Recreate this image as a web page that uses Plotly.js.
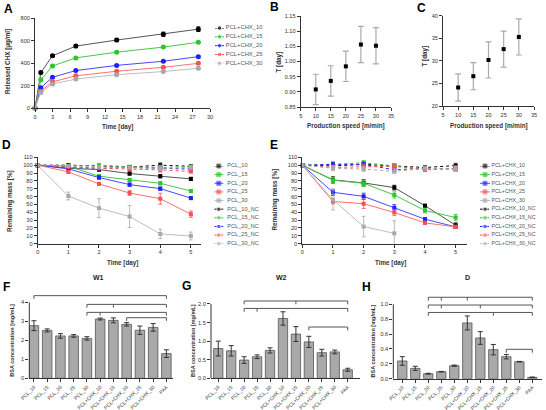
<!DOCTYPE html>
<html><head><meta charset="utf-8">
<script src="https://cdn.plot.ly/plotly-3.0.1.min.js"></script>
<style>html,body{margin:0;padding:0;background:#fff}#chart{width:546px;height:410px}</style>
</head><body><div id="chart"></div>
<script>
// ---------------- DATA ----------------
const timeA = [0, 1, 3, 7, 14, 22, 28];
const chx10 = [0, 316, 466, 552, 606, 658, 703];
const chx15 = [0, 251, 375, 447, 498, 543, 586];
const chx20 = [0, 181, 274, 334, 380, 417, 458];
const chx25 = [0, 150, 233, 287, 328, 363, 398];
const chx30 = [0, 139, 214, 258, 297, 325, 354];
const chx10Err = [0, 12, 10, 14, 14, 18, 20];
const chx15Err = [0, 8, 8, 8, 8, 8, 8];
const chx20Err = [0, 8, 6, 8, 8, 8, 8];
const chx25Err = [0, 6, 6, 6, 6, 6, 6];
const chx30Err = [0, 6, 6, 6, 6, 6, 6];
const namesA = ['PCL+CHX_10', 'PCL+CHX_15', 'PCL+CHX_20', 'PCL+CHX_25', 'PCL+CHX_30'];

const speed = [10, 15, 20, 25, 30];
const tB = [0.908, 0.936, 0.984, 1.056, 1.052];
const tBErr = [0.05, 0.05, 0.05, 0.06, 0.06];
const tC = [24.1, 26.6, 30.2, 32.6, 35.3];
const tCErr = [3, 3, 4, 4, 4];

const dayDE = [0, 1, 2, 3, 4, 5];
const pcl10 = [100, 96, 94.4, 89.3, 85.9, 82.5];
const pcl15 = [100, 98.7, 85.9, 81.2, 76.9, 67.1];
const pcl20 = [100, 95.3, 84.2, 75.2, 70.1, 58.1];
const pcl25 = [100, 91.5, 76.1, 64.5, 57.3, 37.6];
const pcl30 = [100, 60.7, 45.3, 34.6, 12.4, 9.8];
const pcl10Err = [0, 2, 2, 2, 2, 2];
const pcl15Err = [0, 1.5, 2, 2, 2, 2];
const pcl20Err = [0, 1.5, 2, 2, 2, 2];
const pcl25Err = [0, 2, 2, 3, 7, 4];
const pcl30Err = [0, 5, 12, 14, 6, 5];
const pcl10NC = [100, 100, 99, 97.5, 100, 98.5];
const pcl15NC = [100, 99, 100, 98, 97, 98];
const pcl20NC = [100, 97, 96, 97, 96, 95];
const pcl25NC = [100, 98, 96, 95, 94, 92];
const pcl30NC = [100, 99, 98, 97, 96, 97];
const pclNCErr = [0, 1.5, 1.5, 1.5, 3, 2];
const namesD = ['PCL_10', 'PCL_15', 'PCL_20', 'PCL_25', 'PCL_30',
                'PCL_10_NC', 'PCL_15_NC', 'PCL_20_NC', 'PCL_25_NC', 'PCL_30_NC'];

const chxE10 = [100, 81.2, 77.4, 71.4, 48.3, 23.5];
const chxE15 = [100, 80.8, 76.9, 62, 42.3, 33.3];
const chxE20 = [100, 65.4, 60.3, 45.7, 31.2, 21.4];
const chxE25 = [100, 53.8, 50.9, 39.7, 26.5, 21.4];
const chxE30 = [100, 56, 21.8, 13.2, null, null];
const chxE10Err = [0, 4, 4, 3, 2, 3];
const chxE15Err = [0, 3, 4, 4, 3, 4];
const chxE20Err = [0, 4, 4, 4, 2, 2];
const chxE25Err = [0, 3, 6, 4, 2, 2];
const chxE30Err = [0, 13, 13, 16, 0, 0];
const chxE10NC = [100, 99, 101, 99, 97, 99.5];
const chxE15NC = [100, 101, 103, 99, 95, 96];
const chxE20NC = [100, 101, 101, 94, 96, 95];
const chxE25NC = [100, 97, 98, 98.5, 94, 96];
const chxE30NC = [100, 96, 95, 92, 96, 95];
const chxENCErr = [0, 3, 3, 3, 2, 3];
const namesE = ['PCL+CHX_10', 'PCL+CHX_15', 'PCL+CHX_20', 'PCL+CHX_25', 'PCL+CHX_30',
                'PCL+CHX_10_NC', 'PCL+CHX_15_NC', 'PCL+CHX_20_NC', 'PCL+CHX_25_NC', 'PCL+CHX_30_NC'];

const cats = ['PCL_10', 'PCL_15', 'PCL_20', 'PCL_25', 'PCL_30', 'PCL+CHX_10', 'PCL+CHX_15',
              'PCL+CHX_20', 'PCL+CHX_25', 'PCL+CHX_30', 'PAA'];
const bsaW1 = [2.77, 2.52, 2.23, 2.23, 2.10, 3.12, 3.05, 2.84, 2.53, 2.68, 1.30];
const bsaW1Err = [0.26, 0.08, 0.12, 0.07, 0.09, 0.05, 0.13, 0.09, 0.22, 0.2, 0.2];
const bsaW2 = [0.80, 0.74, 0.49, 0.58, 0.75, 1.61, 1.19, 0.98, 0.69, 0.71, 0.23];
const bsaW2Err = [0.2, 0.14, 0.09, 0.05, 0.07, 0.18, 0.2, 0.15, 0.09, 0.05, 0.04];
const bsaD = [0.238, 0.139, 0.067, 0.094, 0.175, 0.749, 0.547, 0.39, 0.296, 0.229, 0.018];
const bsaDErr = [0.058, 0.028, 0.006, 0.004, 0.008, 0.094, 0.085, 0.07, 0.03, 0.004, 0.004];
// significance brackets: [from index, to index, height, mid ticks]
const bracketsW1 = [[0, 10, 4.35, []], [4, 10, 3.89, [6]], [4, 10, 3.47, [5]], [7, 10, 3.19, []]];
const bracketsW2 = [[2, 10, 2.08, [6]], [2, 10, 1.88, [3]], [7, 10, 1.38, []]];
const bracketsD = [[2, 10, 1.094, [3, 5]], [2, 10, 0.99, [3, 6]], [2, 10, 0.89, [7]], [8, 10, 0.395, []]];

// ---------------- STYLE ----------------
const FONT = 'Liberation Sans, Arial, sans-serif';
const COLORS = ['#000000', '#2ec52e', '#1f1fff', '#ff4f4f', '#a8a8a8'];
const LINECOLORS = ['#555555', '#45c845', '#4848ff', '#ff7070', '#bdbdbd'];
const W = 546, H = 410;
const px = (a, b) => [a / W, b / W];
const py = (top, bottom) => [1 - bottom / H, 1 - top / H];

function ax(extra) {
  return Object.assign({
    showline: true, linecolor: '#333', linewidth: 1, ticks: 'outside', ticklen: 3,
    tickwidth: 1, tickcolor: '#333', showgrid: false, zeroline: false, fixedrange: true,
    tickfont: {size: 5.6, color: '#333', family: FONT}
  }, extra);
}
function hidden(extra) {
  return Object.assign({visible: false, showgrid: false, zeroline: false, fixedrange: true}, extra);
}

const traces = [];

// ---- Panel A ----
const seriesA = [chx10, chx15, chx20, chx25, chx30];
const errA = [chx10Err, chx15Err, chx20Err, chx25Err, chx30Err];
seriesA.forEach((s, i) => {
  traces.push({
    type: 'scatter', mode: 'lines+markers', x: timeA, y: s, xaxis: 'x', yaxis: 'y',
    line: {color: LINECOLORS[i], width: 1}, marker: {color: COLORS[i], size: 5, symbol: 'circle'},
    error_y: {type: 'data', array: errA[i], color: COLORS[i], thickness: 1, width: 2},
    cliponaxis: false, showlegend: false, name: namesA[i]
  });
});

// ---- Panels B & C ----
traces.push({type: 'scatter', mode: 'markers', x: speed, y: tB, xaxis: 'x2', yaxis: 'y2',
  marker: {color: '#000', size: 4, symbol: 'square'},
  error_y: {type: 'data', array: tBErr, color: '#aaaaaa', thickness: 1.2, width: 3},
  showlegend: false, cliponaxis: false});
traces.push({type: 'scatter', mode: 'markers', x: speed, y: tC, xaxis: 'x3', yaxis: 'y3',
  marker: {color: '#000', size: 4, symbol: 'square'},
  error_y: {type: 'data', array: tCErr, color: '#aaaaaa', thickness: 1.2, width: 3},
  showlegend: false, cliponaxis: false});

// ---- Panels D & E ----
function massTraces(series, errs, names, xa, ya) {
  series.forEach((s, i) => {
    const nc = i >= 5;
    const c = i % 5;
    traces.push({
      type: 'scatter', mode: 'lines+markers', x: dayDE, y: s, xaxis: xa, yaxis: ya,
      line: {color: nc ? COLORS[c] : LINECOLORS[c], width: 1, dash: nc ? 'dot' : 'solid'},
      marker: {color: COLORS[c], size: 4, symbol: 'square'},
      error_y: {type: 'data', array: errs[i], color: nc ? LINECOLORS[c] : COLORS[c], thickness: 0.8, width: 2},
      cliponaxis: false, showlegend: false, name: names[i], connectgaps: false
    });
  });
}
massTraces([pcl10, pcl15, pcl20, pcl25, pcl30, pcl10NC, pcl15NC, pcl20NC, pcl25NC, pcl30NC],
  [pcl10Err, pcl15Err, pcl20Err, pcl25Err, pcl30Err, pclNCErr, pclNCErr, pclNCErr, pclNCErr, pclNCErr],
  namesD, 'x4', 'y4');
massTraces([chxE10, chxE15, chxE20, chxE25, chxE30, chxE10NC, chxE15NC, chxE20NC, chxE25NC, chxE30NC],
  [chxE10Err, chxE15Err, chxE20Err, chxE25Err, chxE30Err, chxENCErr, chxENCErr, chxENCErr, chxENCErr, chxENCErr],
  namesE, 'x5', 'y5');

// ---- Legends (drawn in small hidden subplots; symbol spans x 0..1) ----
function legendTraces(names, xa, ya, solidOnly, textX, fs) {
  names.forEach((n, i) => {
    const nc = i >= 5;
    const c = i % 5;
    traces.push({
      type: 'scatter', mode: 'lines+markers', x: [0, 0.5, 1], y: [i, i, i], xaxis: xa, yaxis: ya,
      line: {color: (nc || solidOnly) ? COLORS[c] : LINECOLORS[c], width: 1, dash: nc ? 'dot' : 'solid'},
      marker: {color: COLORS[c], size: [0, solidOnly ? 4.5 : 4, 0], symbol: solidOnly ? 'circle' : 'square'},
      showlegend: false, cliponaxis: false
    });
  });
  traces.push({
    type: 'scatter', mode: 'text', x: names.map(() => textX), y: names.map((n, i) => i),
    text: names, textposition: 'middle right', xaxis: xa, yaxis: ya,
    textfont: {size: fs, color: '#555', family: FONT}, showlegend: false, cliponaxis: false
  });
}
legendTraces(namesA, 'x9', 'y9', true, 1.2, 5.8);
legendTraces(namesD, 'x10', 'y10', false, 1.45, 5.6);
legendTraces(namesE, 'x11', 'y11', false, 1.15, 5.3);

// ---- Panels F, G, H ----
function barPanel(vals, errs, brackets, xa, ya, drop) {
  traces.push({
    type: 'bar', x: cats, y: vals, xaxis: xa, yaxis: ya, width: 0.72,
    marker: {color: '#a9a9a9', line: {color: '#555', width: 0.8}},
    error_y: {type: 'data', array: errs, color: '#333', thickness: 1, width: 2.5},
    showlegend: false
  });
  const bx = [], by = [];
  brackets.forEach(b => {
    const [a, e, h, mids] = b;
    bx.push(cats[a], cats[a], cats[e], cats[e], null);
    by.push(h - drop, h, h, h - drop, null);
    mids.forEach(m => { bx.push(cats[m], cats[m], null); by.push(h, h - drop, null); });
  });
  traces.push({type: 'scatter', mode: 'lines', x: bx, y: by, xaxis: xa, yaxis: ya,
    line: {color: '#555', width: 1}, showlegend: false, connectgaps: false});
}
barPanel(bsaW1, bsaW1Err, bracketsW1, 'x6', 'y6', 0.17);
barPanel(bsaW2, bsaW2Err, bracketsW2, 'x7', 'y7', 0.09);
barPanel(bsaD, bsaDErr, bracketsD, 'x8', 'y8', 0.045);

// ---------------- LAYOUT ----------------
const barX = (dom, rng) => ax({type: 'category', categoryorder: 'array', categoryarray: cats,
  domain: dom, range: rng, tickangle: -45, tickfont: {size: 5, color: '#333', family: FONT}});
const barY = (dom, rng, vals, txt, anchor) => ax({domain: dom, range: rng, tickvals: vals, ticktext: txt,
  showline: false, anchor: anchor});

const layout = {
  width: W, height: H, margin: {l: 0, r: 0, t: 0, b: 0},
  paper_bgcolor: '#fff', plot_bgcolor: 'rgba(0,0,0,0)',
  font: {family: FONT, color: '#333'}, showlegend: false, hovermode: false,
  bargap: 0.2,
  xaxis: ax({domain: px(35, 210), range: [0, 30], tickvals: [0, 3, 6, 9, 12, 15, 18, 21, 24, 27, 30], anchor: 'y'}),
  yaxis: ax({domain: py(18.3, 108), range: [0, 800], tickvals: [0, 200, 400, 600, 800], anchor: 'x'}),
  xaxis2: ax({domain: px(300.7, 391), range: [5, 35], dtick: 5, tick0: 5, anchor: 'y2'}),
  yaxis2: ax({domain: py(16, 107), range: [0.85, 1.15], dtick: 0.05, tick0: 0.85, tickformat: '.2f', anchor: 'x2'}),
  xaxis3: ax({domain: px(443, 534), range: [5, 35], dtick: 5, tick0: 5, anchor: 'y3'}),
  yaxis3: ax({domain: py(15.7, 106), range: [20, 40], dtick: 5, tick0: 20, anchor: 'x3'}),
  xaxis4: ax({domain: px(37.7, 201), range: [0, 5.33], tickvals: [0, 1, 2, 3, 4, 5], anchor: 'y4'}),
  yaxis4: ax({domain: py(157.3, 243.7), range: [0, 110], dtick: 10, tick0: 0, anchor: 'x4'}),
  xaxis5: ax({domain: px(302.3, 466.7), range: [0, 5.36], tickvals: [0, 1, 2, 3, 4, 5], anchor: 'y5'}),
  yaxis5: ax({domain: py(157.3, 243.7), range: [0, 110], dtick: 10, tick0: 0, anchor: 'x5'}),
  xaxis6: Object.assign(barX(px(29.3, 173), [-0.35, 10.5]), {anchor: 'y6'}),
  yaxis6: barY(py(293.75, 378.3), [0, 4.45], [0, 1, 2, 3, 4], ['0', '1', '2', '3', '4'], 'x6'),
  xaxis7: Object.assign(barX(px(211, 360), [-0.56, 10.95]), {anchor: 'y7'}),
  yaxis7: barY(py(298.4, 378.3), [0, 2.15], [0, 0.5, 1, 1.5, 2], ['0.0', '0.5', '1.0', '1.5', '2.0'], 'x7'),
  xaxis8: Object.assign(barX(px(393.3, 541.7), [-0.69, 10.72]), {anchor: 'y8'}),
  yaxis8: barY(py(294.6, 378.7), [0, 1.13], [0, 0.2, 0.4, 0.6, 0.8, 1.0], ['0.0', '0.2', '0.4', '0.6', '0.8', '1.0'], 'x8'),
  // legend subplots: ~9-10 px per x unit, wide enough to keep the label points inside the range
  xaxis9: hidden({domain: px(215, 269), range: [0, 6], anchor: 'y9'}),
  yaxis9: hidden({domain: py(28, 63.3), range: [4, 0], anchor: 'x9'}),
  xaxis10: hidden({domain: px(214.3, 268.3), range: [0, 6], anchor: 'y10'}),
  yaxis10: hidden({domain: py(166, 243.7), range: [9, 0], anchor: 'x10'}),
  xaxis11: hidden({domain: px(480, 546), range: [0, 6.6], anchor: 'y11'}),
  yaxis11: hidden({domain: py(166, 243.7), range: [9, 0], anchor: 'x11'}),
  shapes: [
    {type: 'line', xref: 'x6 domain', yref: 'y6', x0: 0, x1: 0, y0: 0, y1: 4, line: {color: '#333', width: 1}},
    {type: 'line', xref: 'x7 domain', yref: 'y7', x0: 0, x1: 0, y0: 0, y1: 2, line: {color: '#333', width: 1}},
    {type: 'line', xref: 'x8 domain', yref: 'y8', x0: 0, x1: 0, y0: 0, y1: 1, line: {color: '#333', width: 1}}
  ],
  annotations: []
};

function note(text, x, y, opts) {
  layout.annotations.push(Object.assign({
    text: text, xref: 'paper', yref: 'paper', x: x / W, y: 1 - y / H, showarrow: false,
    xanchor: 'center', yanchor: 'middle', font: {family: FONT, size: 6.3, color: '#333'}
  }, opts || {}));
}
const bold = t => '<b>' + t + '</b>';
// panel letters
[['A', 8, 9], ['B', 274, 7], ['C', 421.7, 7.5], ['D', 6, 145], ['E', 274, 145],
 ['F', 6, 287], ['G', 186, 286], ['H', 366, 287]].forEach(l =>
  note(bold(l[0]), l[1], l[2], {font: {family: FONT, size: 12, color: '#000'}}));
// axis titles
note(bold('Released CHX [μg/ml]'), 8.3, 62, {textangle: -90});
note(bold('Time [day]'), 117, 127);
note(bold('T [day]'), 278.5, 62, {textangle: -90});
note(bold('Production speed [m/min]'), 345.7, 126);
note(bold('T [day]'), 424.5, 56, {textangle: -90});
note(bold('Production speed [m/min]'), 489.3, 126);
note(bold('Remaining mass [%]'), 10, 201, {textangle: -90});
note(bold('Time [day]'), 122, 262.7);
note(bold('Remaining mass [%]'), 274.5, 200, {textangle: -90});
note(bold('Time [day]'), 390, 262.7);
note(bold('BSA concentration [mg/mL]'), 11.7, 340, {textangle: -90, font: {family: FONT, size: 5.5, color: '#333'}});
note(bold('BSA concentration [mg/mL]'), 193, 341, {textangle: -90, font: {family: FONT, size: 5.5, color: '#333'}});
note(bold('BSA concentration [mg/mL]'), 372.5, 341, {textangle: -90, font: {family: FONT, size: 5.5, color: '#333'}});
note(bold('W1'), 98.3, 277, {font: {family: FONT, size: 7, color: '#222'}});
note(bold('W2'), 281, 277, {font: {family: FONT, size: 7, color: '#222'}});
note(bold('D'), 467, 277, {font: {family: FONT, size: 7, color: '#222'}});

Plotly.newPlot('chart', traces, layout, {staticPlot: true, displayModeBar: false});
</script>
</body></html>
